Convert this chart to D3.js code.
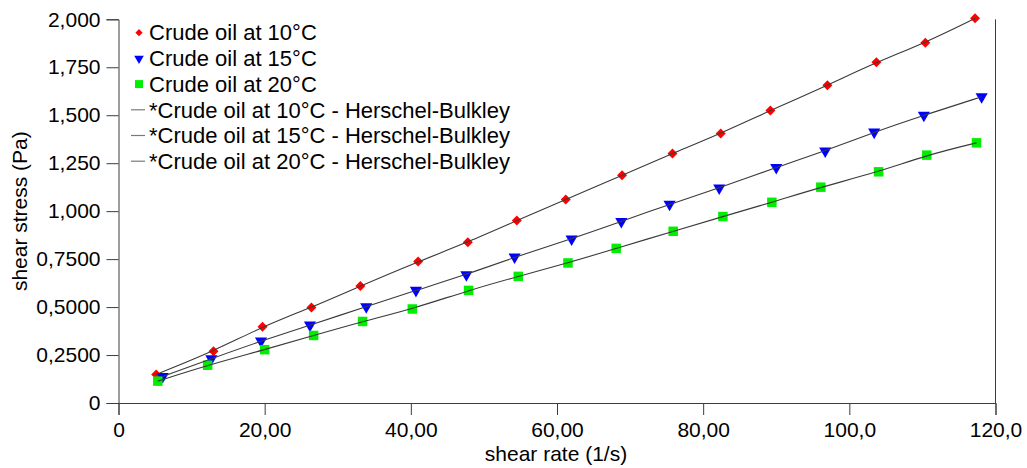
<!DOCTYPE html>
<html>
<head>
<meta charset="utf-8">
<script src="https://cdn.jsdelivr.net/npm/d3@7"></script>
<style>
  html, body { margin: 0; padding: 0; background: #fff; }
  svg { display: block; font-family: "Liberation Sans", Arial, sans-serif; }
</style>
</head>
<body>
<svg id="chart" width="1027" height="468"></svg>
<script>
// ---- data ----
const seriesNames = ["Crude oil at 10°C", "Crude oil at 15°C", "Crude oil at 20°C"];
const fitNames = [
  "*Crude oil at 10°C - Herschel-Bulkley",
  "*Crude oil at 15°C - Herschel-Bulkley",
  "*Crude oil at 20°C - Herschel-Bulkley"
];
const rate10 = [5.16, 13.0, 19.7, 26.4, 33.1, 41.0, 47.8, 54.5, 61.2, 68.9, 75.8, 82.4, 89.2, 97.0, 103.7, 110.4, 117.2];
const stress10 = [0.149, 0.270, 0.398, 0.498, 0.610, 0.737, 0.838, 0.951, 1.061, 1.187, 1.301, 1.405, 1.525, 1.656, 1.776, 1.878, 2.005];
const rate15 = [6.05, 12.7, 19.5, 26.2, 33.9, 40.7, 47.6, 54.2, 62.0, 68.8, 75.4, 82.2, 90.0, 96.7, 103.4, 110.2, 118.1];
const stress15 = [0.138, 0.231, 0.323, 0.406, 0.502, 0.587, 0.669, 0.761, 0.855, 0.946, 1.036, 1.121, 1.228, 1.314, 1.412, 1.500, 1.596];
const rate20 = [5.38, 12.2, 20.0, 26.7, 33.4, 40.2, 47.9, 54.7, 61.5, 68.1, 75.9, 82.7, 89.4, 96.1, 104.0, 110.6, 117.4];
const stress20 = [0.114, 0.197, 0.278, 0.352, 0.425, 0.490, 0.587, 0.660, 0.730, 0.806, 0.895, 0.972, 1.046, 1.125, 1.205, 1.292, 1.356];

const xTickValues = [0, 20, 40, 60, 80, 100, 120];
const xTickLabels = ["0", "20,00", "40,00", "60,00", "80,00", "100,0", "120,0"];
const yTickValues = [0, 0.25, 0.5, 0.75, 1.0, 1.25, 1.5, 1.75, 2.0];
const yTickLabels = ["0", "0,2500", "0,5000", "0,7500", "1,000", "1,250", "1,500", "1,750", "2,000"];
const xLabel = "shear rate (1/s)";
const yLabel = "shear stress (Pa)";

// ---- layout ----
const svg = d3.select("#chart");
const mLeft = 118.5, mRight = 995.5, mTop = 19.3, mBottom = 403;
const x = d3.scaleLinear().domain([0, 120]).range([mLeft, mRight]);
const y = d3.scaleLinear().domain([0, 2]).range([mBottom, mTop]);
const axisColor = "#3c3c3c";
const fontSize = 21;
const legendFontSize = 22;

// minor ticks
const xMinor = d3.range(0, 120.001, 2).filter(v => v % 20 !== 0);
const yMinor = d3.range(0, 2.0001, 0.025).filter(v => Math.abs(v / 0.25 - Math.round(v / 0.25)) > 1e-6);

const gx = svg.append("g").attr("transform", `translate(0,${mBottom})`);
gx.call(d3.axisBottom(x).tickValues(xMinor).tickSize(6).tickFormat(""));
gx.call(d3.axisBottom(x).tickValues(xTickValues).tickSize(12).tickPadding(7)
  .tickFormat((d, i) => xTickLabels[i]));
gx.selectAll("path.domain").attr("stroke", axisColor);
gx.selectAll("line").attr("stroke", axisColor);
gx.selectAll("text").attr("font-size", fontSize).attr("fill", "#000")
  .attr("font-family", "'Liberation Sans', Arial, sans-serif");

const gy = svg.append("g").attr("transform", `translate(${mLeft},0)`);
gy.call(d3.axisLeft(y).tickValues(yMinor).tickSize(7).tickFormat(""));
gy.call(d3.axisLeft(y).tickValues(yTickValues).tickSize(12).tickPadding(6)
  .tickFormat((d, i) => yTickLabels[i]));
gy.selectAll("path.domain").attr("stroke", axisColor);
gy.selectAll("line").attr("stroke", axisColor);
gy.selectAll("text").attr("font-size", fontSize).attr("fill", "#000")
  .attr("font-family", "'Liberation Sans', Arial, sans-serif");

// right border line
svg.append("line")
  .attr("x1", x(120)).attr("x2", x(120))
  .attr("y1", y(2)).attr("y2", mBottom)
  .attr("stroke", axisColor).attr("stroke-width", 1);

// axis titles
svg.append("text")
  .attr("x", (mLeft + mRight) / 2 - 1).attr("y", 461)
  .attr("text-anchor", "middle").attr("font-size", fontSize).attr("fill", "#000")
  .text(xLabel);
svg.append("text")
  .attr("transform", `translate(27,${(mTop + mBottom) / 2}) rotate(-90)`)
  .attr("text-anchor", "middle").attr("font-size", fontSize).attr("fill", "#000")
  .text(yLabel);

// ---- series ----
const sets = [
  { xs: rate10, ys: stress10, color: "#ff0000", sym: d3.symbolSquare, size: 50, rot: 45, legSize: 26 },
  { xs: rate15, ys: stress15, color: "#0000ff", sym: d3.symbolTriangle, size: 64, rot: 180, legSize: 40 },
  { xs: rate20, ys: stress20, color: "#00ee00", sym: d3.symbolSquare, size: 90, rot: 0, legSize: 64 }
];

const line = d3.line().x(d => x(d[0])).y(d => y(d[1])).curve(d3.curveBasis);

// markers
sets.forEach(s => {
  const sym = d3.symbol().type(s.sym).size(s.size);
  svg.append("g").selectAll("path")
    .data(s.xs.map((v, i) => [v, s.ys[i]]))
    .join("path")
    .attr("d", sym)
    .attr("fill", s.color)
    .attr("transform", d => `translate(${x(d[0])},${y(d[1])}) rotate(${s.rot})`);
});

// fit lines drawn over markers
sets.forEach(s => {
  const pts = s.xs.map((v, i) => [v, s.ys[i]]);
  svg.append("path").datum(pts)
    .attr("d", line)
    .attr("fill", "none")
    .attr("stroke", "#3a3a3a")
    .attr("stroke-width", 1.1);
});

// ---- legend ----
const legX = 139, legTextX = 149, legY0 = 32.7, legStep = 25.7;
const legend = svg.append("g");
sets.forEach((s, i) => {
  const cy = legY0 + i * legStep;
  legend.append("path")
    .attr("d", d3.symbol().type(s.sym).size(s.legSize)())
    .attr("fill", s.color)
    .attr("transform", `translate(${legX},${cy}) rotate(${s.rot})`);
  legend.append("text")
    .attr("x", legTextX).attr("y", cy).attr("dy", "0.35em")
    .attr("font-size", legendFontSize).attr("fill", "#000")
    .text(seriesNames[i]);
});
fitNames.forEach((n, i) => {
  const cy = legY0 + (i + 3) * legStep;
  legend.append("line")
    .attr("x1", 131).attr("x2", 145).attr("y1", cy).attr("y2", cy)
    .attr("stroke", "#7a7a7a").attr("stroke-width", 1.2);
  legend.append("text")
    .attr("x", legTextX).attr("y", cy).attr("dy", "0.35em")
    .attr("font-size", legendFontSize).attr("fill", "#000")
    .text(n);
});
</script>
</body>
</html>
